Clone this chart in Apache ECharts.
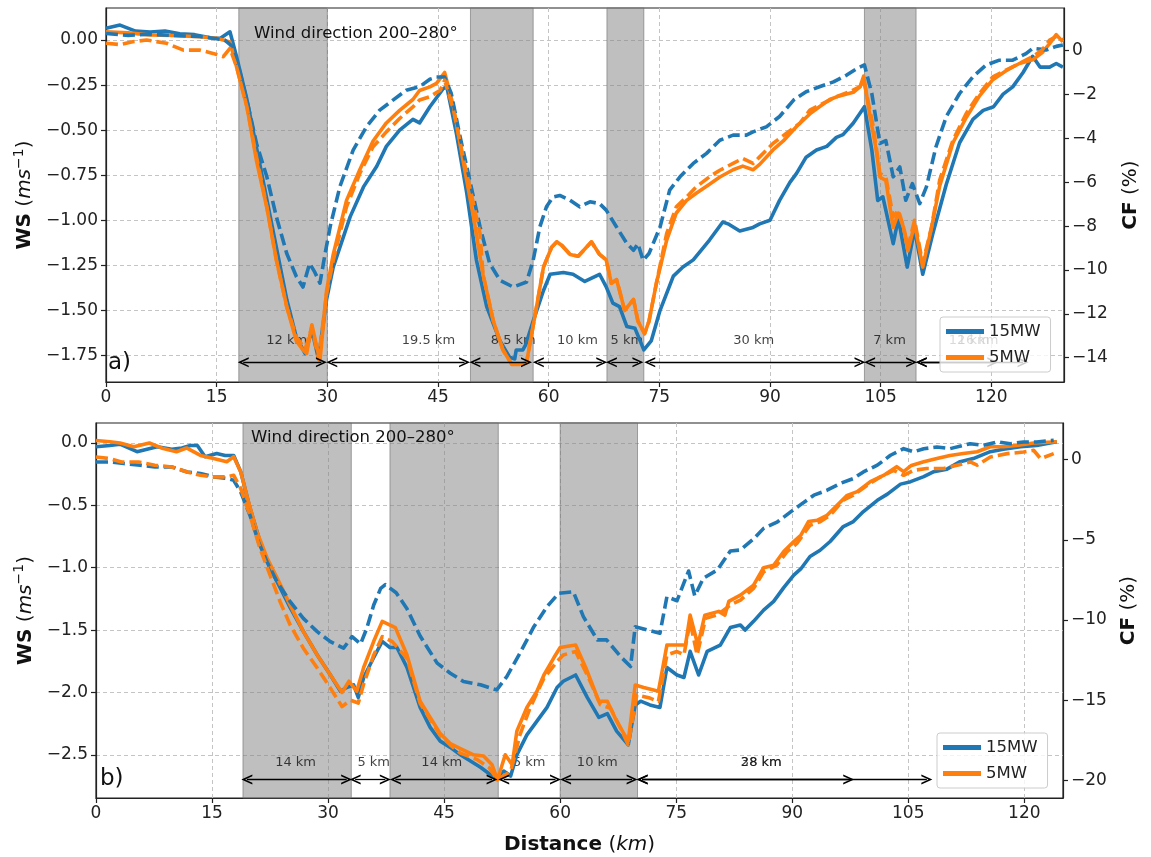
<!DOCTYPE html>
<html><head><meta charset="utf-8">
<script src="https://cdn.jsdelivr.net/npm/echarts@6/dist/echarts.min.js"></script>
<style>html,body{margin:0;padding:0;background:#fff}#c{width:1151px;height:857px}</style>
</head><body><div id="c"></div>
<script>
// ---------- Panel a) data: [distance km, value] ----------
const A_WS_15 = [[0,0.065],[1.9,0.083],[4,0.05],[6,0.045],[8,0.05],[10,0.035],[12,0.03],[14.5,0.01],[15.5,0.01],[16.8,0.046],[17.7,-0.093],[19.1,-0.33],[20.9,-0.70],[22.7,-1.07],[24.5,-1.44],[25.8,-1.65],[27.0,-1.74],[27.9,-1.61],[28.8,-1.77],[29.9,-1.44],[30.8,-1.26],[33.1,-0.98],[34.9,-0.815],[36.7,-0.70],[38.0,-0.59],[39.8,-0.50],[41.6,-0.44],[42.5,-0.46],[43.9,-0.37],[45.7,-0.27],[46.2,-0.26],[47.5,-0.52],[48.9,-0.85],[50.2,-1.22],[51.6,-1.48],[53.4,-1.67],[54.7,-1.76],[55.4,-1.77],[55.6,-1.72],[56.5,-1.72],[56.9,-1.69],[57.9,-1.56],[59.3,-1.39],[60.2,-1.30],[62.0,-1.29],[63.3,-1.30],[64.9,-1.34],[66.9,-1.30],[67.8,-1.37],[68.7,-1.46],[69.6,-1.48],[70.6,-1.59],[71.7,-1.60],[72.9,-1.72],[73.9,-1.67],[75.1,-1.50],[76.9,-1.31],[78.2,-1.26],[79.6,-1.22],[81.8,-1.11],[83.6,-1.01],[84.3,-1.02],[85.9,-1.06],[87.7,-1.04],[88.6,-1.02],[90.0,-1.0],[91.3,-0.89],[92.7,-0.79],[93.6,-0.74],[94.9,-0.65],[96.3,-0.61],[97.7,-0.59],[99.0,-0.54],[99.9,-0.525],[101.3,-0.46],[102.8,-0.37],[103.8,-0.61],[104.6,-0.89],[105.3,-0.87],[106.7,-1.13],[107.4,-0.99],[108.6,-1.26],[109.6,-1.05],[110.7,-1.30],[112.1,-1.07],[113.9,-0.80],[115.7,-0.57],[117.5,-0.44],[118.9,-0.39],[120.3,-0.37],[121.6,-0.30],[122.9,-0.26],[124.3,-0.18],[125.6,-0.09],[126.6,-0.15],[127.9,-0.15],[128.8,-0.13],[129.7,-0.15]];
const A_WS_5 = [[0,0.046],[3,0.04],[6,0.028],[9,0.025],[12.7,0.018],[15,0.01],[16.8,-0.01],[17.7,-0.15],[19.1,-0.37],[20.4,-0.67],[21.8,-0.93],[23.1,-1.22],[24.5,-1.48],[25.8,-1.67],[26.7,-1.72],[27.2,-1.74],[27.9,-1.58],[29.0,-1.78],[29.9,-1.39],[30.8,-1.19],[32.6,-0.89],[34.4,-0.72],[36.2,-0.56],[38.0,-0.46],[39.8,-0.39],[41.6,-0.33],[42.5,-0.28],[43.9,-0.26],[44.8,-0.24],[45.9,-0.18],[47.1,-0.37],[48.4,-0.67],[49.8,-0.98],[51.1,-1.30],[52.5,-1.56],[53.8,-1.72],[55.0,-1.80],[56.1,-1.80],[57.0,-1.79],[58.1,-1.54],[59.3,-1.26],[60.4,-1.15],[61.1,-1.12],[61.8,-1.14],[62.9,-1.19],[64.0,-1.20],[64.9,-1.16],[65.8,-1.12],[66.9,-1.19],[67.8,-1.22],[68.5,-1.35],[69.2,-1.33],[69.6,-1.39],[70.3,-1.50],[71.5,-1.44],[72.1,-1.56],[73.0,-1.63],[73.6,-1.56],[74.6,-1.35],[76.0,-1.11],[77.3,-0.96],[78.7,-0.89],[80.0,-0.85],[81.8,-0.80],[83.2,-0.76],[85.0,-0.72],[86.3,-0.70],[87.7,-0.72],[88.6,-0.69],[90.4,-0.61],[91.8,-0.56],[93.6,-0.48],[95.4,-0.41],[96.7,-0.37],[98.1,-0.33],[99.4,-0.31],[101.3,-0.29],[102.2,-0.26],[102.7,-0.20],[103.5,-0.41],[104.4,-0.61],[104.9,-0.76],[105.7,-0.78],[106.7,-1.04],[107.4,-0.96],[108.1,-1.04],[108.7,-1.17],[109.6,-1.02],[110.7,-1.26],[111.9,-1.04],[113.0,-0.81],[114.8,-0.57],[116.6,-0.43],[118.4,-0.31],[120.2,-0.22],[122.0,-0.17],[123.8,-0.13],[125.6,-0.11],[126.9,-0.07],[127.9,-0.02],[128.8,0.03],[129.7,-0.01]];
const A_CF_15 = [[0,0.79],[3,0.7],[6,0.75],[9,0.7],[12.7,0.65],[14.5,0.57],[16.1,0.49],[17.2,0.18],[18.2,-1.03],[19.3,-2.56],[20.4,-4.23],[21.8,-5.75],[23.1,-7.58],[24.5,-9.25],[25.8,-10.3],[26.7,-10.78],[27.6,-9.7],[28.3,-10.1],[29.0,-10.6],[29.7,-9.25],[30.4,-8.0],[31.7,-6.2],[33.5,-4.53],[35.3,-3.47],[37.1,-2.71],[38.9,-2.25],[40.7,-1.8],[42.5,-1.64],[43.9,-1.30],[44.8,-1.2],[45.9,-1.2],[46.8,-1.95],[47.9,-3.77],[49.3,-5.9],[50.7,-8.04],[52.0,-9.7],[53.4,-10.47],[55.2,-10.78],[57.0,-10.55],[57.9,-9.56],[58.8,-8.04],[59.7,-7.12],[60.6,-6.67],[61.5,-6.6],[62.9,-6.82],[64.2,-7.12],[65.6,-6.89],[66.9,-6.97],[67.8,-7.27],[69.2,-8.04],[70.6,-8.79],[71.5,-9.1],[72.1,-8.8],[72.8,-9.56],[73.6,-9.25],[75.1,-8.04],[76.4,-6.36],[77.8,-5.75],[79.6,-5.14],[81.4,-4.68],[83.2,-4.08],[85.0,-3.85],[86.8,-3.85],[87.7,-3.7],[89.5,-3.47],[91.3,-3.0],[93.2,-2.25],[94.9,-1.87],[96.7,-1.64],[98.6,-1.42],[100.4,-1.11],[101.8,-0.81],[102.8,-0.65],[103.8,-1.95],[104.9,-4.23],[105.7,-4.1],[106.7,-5.75],[107.6,-5.3],[108.4,-6.82],[109.3,-6.06],[110.3,-6.97],[111.2,-6.21],[112.5,-4.38],[113.9,-3.0],[115.7,-1.95],[117.5,-1.19],[119.3,-0.65],[121.1,-0.43],[122.9,-0.43],[124.7,-0.13],[125.6,0.11],[127.5,0.04],[128.8,0.2],[129.7,0.26]];
const A_CF_5 = [[0,0.34],[1.9,0.28],[3.6,0.41],[5.5,0.49],[8.2,0.34],[10.5,0.03],[12.7,0.03],[14.5,-0.12],[15.9,-0.27],[16.8,0.11],[17.7,-0.73],[19.1,-2.56],[20.4,-4.84],[21.8,-7.12],[23.1,-9.56],[24.5,-11.69],[25.8,-13.06],[27.0,-13.6],[27.9,-12.6],[28.8,-14.05],[29.9,-11.08],[30.8,-9.56],[32.6,-7.12],[34.4,-5.6],[36.2,-4.38],[38.0,-3.7],[39.8,-3.09],[41.6,-2.56],[42.5,-2.25],[43.9,-2.1],[45.3,-1.8],[45.9,-1.34],[47.1,-2.71],[48.4,-4.84],[49.3,-6.21],[50.7,-8.34],[51.1,-10.2],[52.5,-12.33],[53.8,-13.65],[55.0,-14.3],[56.1,-14.3],[57.0,-14.22],[58.1,-12.17],[59.3,-9.87],[60.4,-8.96],[61.1,-8.72],[61.8,-8.88],[62.9,-9.29],[64.0,-9.37],[64.9,-9.05],[65.8,-8.72],[66.9,-9.29],[67.8,-9.54],[68.5,-10.61],[69.2,-10.44],[69.6,-10.94],[70.3,-11.84],[71.5,-11.35],[72.1,-12.33],[73.0,-12.91],[73.6,-12.33],[74.6,-10.61],[76.0,-8.33],[77.3,-7.12],[78.7,-6.67],[80.0,-6.21],[81.8,-5.75],[83.2,-5.45],[85.0,-5.14],[86.3,-4.91],[87.7,-5.14],[88.6,-4.84],[90.4,-4.23],[92.2,-3.77],[94.0,-3.32],[95.4,-2.71],[97.2,-2.4],[99.0,-2.1],[100.8,-1.87],[102.2,-1.64],[102.7,-1.34],[104.0,-3.47],[104.9,-5.6],[105.7,-5.75],[106.7,-7.58],[107.4,-7.27],[108.1,-8.04],[108.7,-8.95],[109.6,-7.73],[110.7,-9.7],[111.9,-8.04],[113.0,-5.9],[114.8,-4.08],[116.6,-2.86],[118.4,-1.95],[120.2,-1.19],[122.0,-0.88],[123.8,-0.58],[125.6,-0.27],[126.9,0.04],[127.9,0.49],[128.8,0.65],[129.7,0.49]];

// ---------- Panel b) data ----------
const B_WS_15 = [[0,-0.03],[1.8,-0.02],[3.1,-0.01],[5.3,-0.07],[6.6,-0.05],[7.9,-0.03],[9.8,-0.05],[11.1,-0.04],[12.2,-0.02],[13.1,-0.02],[14.1,-0.11],[15.6,-0.085],[16.7,-0.10],[17.8,-0.10],[18.7,-0.23],[19.9,-0.52],[21.2,-0.79],[22.5,-1.0],[23.8,-1.16],[25.1,-1.32],[26.8,-1.51],[28.6,-1.70],[30.3,-1.86],[31.6,-1.99],[32.4,-1.96],[33.3,-1.94],[33.9,-2.04],[34.6,-1.88],[35.9,-1.72],[37.0,-1.59],[38.0,-1.64],[38.9,-1.64],[40.2,-1.80],[41.9,-2.12],[43.2,-2.28],[44.5,-2.39],[45.8,-2.44],[47.1,-2.5],[48.4,-2.55],[49.7,-2.6],[51.0,-2.66],[51.9,-2.68],[52.7,-2.63],[53.6,-2.67],[54.4,-2.5],[55.7,-2.34],[57.0,-2.23],[58.3,-2.12],[59.6,-1.96],[60.4,-1.91],[62.0,-1.86],[63.5,-2.04],[65.0,-2.2],[66.1,-2.17],[67.3,-2.31],[68.8,-2.42],[69.7,-2.1],[70.4,-2.07],[71.6,-2.1],[72.9,-2.12],[73.8,-1.80],[75.1,-1.86],[76.0,-1.88],[76.8,-1.67],[77.9,-1.86],[79.0,-1.67],[80.7,-1.62],[82.0,-1.48],[83.3,-1.46],[83.9,-1.50],[85.0,-1.43],[86.3,-1.34],[87.6,-1.27],[88.9,-1.16],[90.2,-1.06],[91.1,-1.01],[92.3,-0.91],[93.6,-0.86],[94.9,-0.79],[96.6,-0.67],[97.9,-0.63],[99.2,-0.55],[101.0,-0.46],[102.3,-0.41],[104.0,-0.33],[105.3,-0.31],[107.0,-0.27],[108.3,-0.23],[110.0,-0.21],[111.7,-0.15],[113.4,-0.125],[115.6,-0.07],[117.3,-0.05],[119.5,-0.03],[121.6,-0.02],[124.2,0.01]];
const B_WS_5 = [[0,0.02],[1.8,0.01],[3.1,0.0],[4.9,-0.03],[6.9,0.0],[8.7,-0.045],[10.4,-0.07],[11.7,-0.04],[13.5,-0.10],[15.2,-0.125],[16.9,-0.15],[17.8,-0.11],[18.7,-0.23],[19.7,-0.47],[20.8,-0.71],[22.1,-0.92],[23.4,-1.08],[25.1,-1.30],[26.8,-1.51],[28.6,-1.70],[30.3,-1.86],[31.8,-2.0],[32.7,-1.91],[33.7,-1.99],[34.6,-1.80],[35.9,-1.59],[37.0,-1.43],[38.7,-1.48],[40.2,-1.70],[41.9,-2.07],[43.2,-2.2],[44.5,-2.33],[45.8,-2.41],[47.1,-2.45],[48.8,-2.5],[50.1,-2.51],[51.2,-2.58],[51.9,-2.70],[52.9,-2.5],[53.8,-2.58],[54.4,-2.31],[55.7,-2.12],[57.0,-1.99],[57.9,-1.86],[59.2,-1.72],[60.0,-1.64],[62.0,-1.62],[63.3,-1.80],[65.0,-2.07],[66.1,-2.07],[67.3,-2.23],[68.8,-2.39],[69.7,-1.94],[70.8,-1.96],[72.7,-1.99],[73.8,-1.62],[75.1,-1.62],[76.2,-1.62],[76.8,-1.38],[77.8,-1.62],[78.7,-1.38],[80.5,-1.35],[81.3,-1.38],[81.8,-1.27],[83.3,-1.22],[85.0,-1.14],[86.3,-1.0],[87.6,-0.98],[88.9,-0.87],[90.2,-0.79],[91.1,-0.74],[92.1,-0.63],[93.2,-0.62],[94.5,-0.58],[95.8,-0.50],[97.1,-0.42],[98.4,-0.39],[100.1,-0.31],[101.8,-0.26],[103.5,-0.19],[104.4,-0.23],[105.4,-0.18],[107.0,-0.15],[108.7,-0.125],[110.4,-0.10],[112.1,-0.085],[113.9,-0.07],[115.6,-0.03],[117.3,-0.03],[119.0,-0.02],[121.2,0.0],[124.2,0.01]];
const B_CF_15 = [[0,-0.15],[1.8,-0.15],[3.6,-0.25],[5.7,-0.35],[7.6,-0.46],[9.8,-0.46],[11.8,-0.77],[13.5,-0.87],[15.2,-1.08],[16.9,-1.18],[17.8,-1.29],[18.7,-2.01],[19.9,-3.47],[21.0,-5.13],[22.1,-6.37],[23.4,-7.62],[25.1,-8.86],[26.8,-9.9],[28.6,-10.73],[30.3,-11.35],[32.0,-11.76],[33.1,-11.04],[34.2,-11.5],[35.0,-10.52],[35.9,-9.07],[36.8,-8.03],[37.4,-7.8],[38.8,-8.3],[40.2,-9.3],[41.9,-11.0],[44.1,-12.69],[45.8,-13.32],[47.5,-13.84],[49.7,-14.04],[51.8,-14.36],[53.1,-13.53],[54.8,-12.07],[56.6,-10.42],[58.3,-9.17],[59.8,-8.34],[61.7,-8.24],[63.0,-9.79],[64.8,-11.24],[66.0,-11.24],[67.8,-12.28],[69.1,-12.9],[69.7,-10.42],[71.2,-10.62],[72.9,-10.83],[73.8,-8.55],[75.1,-8.8],[76.6,-6.95],[77.4,-8.5],[78.5,-7.4],[80.3,-6.89],[82.0,-5.7],[83.3,-5.64],[85.0,-4.95],[86.3,-4.29],[88.1,-3.88],[89.8,-3.26],[91.0,-2.84],[92.8,-2.22],[94.5,-1.91],[96.2,-1.49],[97.9,-1.18],[99.2,-0.77],[101.0,-0.35],[102.7,0.27],[104.4,0.68],[105.7,0.48],[107.0,0.68],[108.7,0.78],[110.4,0.68],[113.0,0.99],[114.7,0.89],[116.5,1.1],[118.2,0.99],[119.9,1.1],[121.6,1.1],[123.8,1.2]];
const B_CF_5 = [[0,0.16],[1.8,0.06],[3.3,-0.15],[5.5,-0.15],[7.6,-0.35],[9.8,-0.46],[11.8,-0.77],[13.5,-0.98],[15.2,-1.08],[16.9,-1.08],[17.8,-0.98],[18.7,-1.8],[19.9,-3.47],[21.2,-5.54],[22.5,-7.2],[23.8,-8.86],[25.1,-10.31],[26.8,-11.76],[28.6,-13.0],[30.3,-14.25],[31.8,-15.4],[32.9,-15.0],[33.9,-15.18],[34.6,-14.0],[35.9,-12.18],[37.0,-11.04],[38.3,-11.35],[40.2,-12.4],[41.9,-15.2],[43.2,-16.2],[44.5,-17.2],[45.8,-17.8],[47.1,-18.3],[49.3,-18.71],[50.8,-19.2],[51.9,-19.96],[53.6,-19.44],[54.8,-17.16],[56.1,-15.49],[57.9,-13.63],[59.6,-12.59],[60.4,-12.18],[62.0,-11.97],[63.5,-13.42],[65.2,-15.29],[66.5,-15.5],[67.8,-16.74],[68.8,-17.78],[69.9,-14.67],[71.6,-14.87],[72.7,-15.08],[73.8,-12.18],[75.1,-11.97],[76.0,-12.18],[76.8,-10.1],[77.7,-12.18],[78.8,-9.9],[80.3,-9.69],[82.0,-9.07],[83.3,-8.76],[85.0,-8.03],[86.3,-7.0],[88.0,-6.58],[89.3,-5.75],[90.6,-5.23],[92.3,-4.09],[93.6,-3.88],[94.9,-3.47],[96.6,-2.53],[97.9,-2.22],[99.7,-1.6],[101.4,-1.08],[103.1,-0.67],[104.4,-0.98],[105.7,-0.67],[107.4,-0.56],[109.6,-0.56],[111.3,-0.35],[113.0,-0.15],[113.9,-0.35],[115.6,0.16],[117.8,0.37],[119.9,0.47],[121.2,0.58],[122.1,0.06],[123.8,0.37]];

// ---------- annotations ----------
const A_BANDS = [[18,30],[49.4,57.9],[67.9,72.9],[102.8,109.8]];
const B_BANDS = [[19,33],[38,52],[60,70]];
const A_ARROWS = [[18.6,29.2],[30.6,48.6],[50.0,57.0],[58.6,67.2],[68.5,72.1],[73.7,102.2],[103.5,109.2],[110.5,120.2],[110.5,124.3]];
const A_LABELS = [[24.5,'12 km'],[43.7,'19.5 km'],[55.2,'8.5 km'],[63.9,'10 km'],[70.6,'5 km'],[87.8,'30 km'],[106.2,'7 km'],[117.0,'12 km'],[118.2,'16 km']];
const B_ARROWS = [[19.5,32.4],[33.5,37.4],[38.7,51.2],[52.7,59.4],[60.7,69.3],[70.6,97.3],[70.6,107.4]];
const B_LABELS = [[25.8,'14 km'],[35.9,'5 km'],[44.7,'14 km'],[56.0,'5 km'],[64.8,'10 km'],[86.0,'28 km'],[86.0,'38 km']];
const A_ARROW_Y = -1.789, A_LABEL_Y = -1.667;
const B_ARROW_Y = -2.698, B_LABEL_Y = -2.56;

// ---------- ticks ----------
const X_TICKS = [0,15,30,45,60,75,90,105,120];
const A_WS_TICKS = [0,-0.25,-0.5,-0.75,-1,-1.25,-1.5,-1.75];
const A_CF_TICKS = [0,-2,-4,-6,-8,-10,-12,-14];
const B_WS_TICKS = [0,-0.5,-1,-1.5,-2,-2.5];
const B_CF_TICKS = [0,-5,-10,-15,-20];
const SERIES_NAMES = ['15MW','5MW'];
const COLORS = ['#1f77b4','#ff7f0e'];

const FONT = 'DejaVu Sans';
const fmt = d => v => (v < 0 ? '\u2212' : '') + Math.abs(v).toFixed(d);
const ARROW = 'path://M0,10 L5,0 L10,10 L8.3,10 L5,3.4 L1.7,10 Z';

function xAxis(grid, max, withName) {
  return {
    type:'value', gridIndex:grid, min:0, max:max,
    axisLine:{show:true, onZero:false, lineStyle:{color:'#222', width:1.2}},
    axisTick:{show:true, length:5, customValues:X_TICKS, lineStyle:{color:'#222', width:1.2}},
    axisLabel:{customValues:X_TICKS, margin:7, fontFamily:FONT, fontSize:17, color:'#222', formatter:fmt(0)},
    splitLine:{show:true, lineStyle:{color:'#c4c4c4', width:1, type:[4,3]}},
    name: withName ? '{b|Distance} ({i|km})' : '',
    nameLocation:'middle', nameGap:37,
    nameTextStyle:{fontFamily:FONT, fontSize:20, color:'#111', rich:{b:{fontFamily:FONT,fontSize:20,fontWeight:'bold',color:'#111'}, i:{fontFamily:FONT,fontSize:20,fontStyle:'italic',color:'#111'}}}
  };
}
function yAxis(grid, pos, min, max, ticks, dec, name, gap, split) {
  return {
    type:'value', gridIndex:grid, position:pos, min:min, max:max,
    axisLine:{show:true, onZero:false, lineStyle:{color:'#222', width:1.2}},
    axisTick:{show:true, length:5, customValues:ticks, lineStyle:{color:'#222', width:1.2}},
    axisLabel:{customValues:ticks, margin:8, fontFamily:FONT, fontSize:17, color:'#222', formatter:fmt(dec)},
    splitLine:{show:split, lineStyle:{color:'#c4c4c4', width:1, type:[4,3]}},
    name:name, nameLocation:'middle', nameGap:gap,
    nameTextStyle:{fontFamily:FONT, fontSize:20, color:'#111', rich:{
      b:{fontFamily:FONT,fontSize:20,fontWeight:'bold',color:'#111'},
      r:{fontFamily:FONT,fontSize:20,color:'#111'},
      i:{fontFamily:FONT,fontSize:20,fontStyle:'italic',color:'#111'},
      s:{fontFamily:FONT,fontSize:14,color:'#111',padding:[0,0,12,0]}}}
  };
}
function line(name, data, color, xi, yi, dashed, z) {
  return {type:'line', name:name, data:data, xAxisIndex:xi, yAxisIndex:yi, showSymbol:false, symbol:'none',
    silent:true, z:z, lineStyle:{color:color, width:3.6, type: dashed ? [12,5] : 'solid', join:'round'}, itemStyle:{color:color}};
}
function bands(list, xi, yi) {
  return {type:'line', data:[], xAxisIndex:xi, yAxisIndex:yi, z:1, silent:true,
    markArea:{silent:true, itemStyle:{color:'rgba(128,128,128,0.5)', borderColor:'rgba(110,110,110,0.6)', borderWidth:1},
      data: list.map(b => [{xAxis:b[0]},{xAxis:b[1]}])}};
}
function arrows(list, y, xi, yi) {
  return {type:'line', data:[], xAxisIndex:xi, yAxisIndex:yi, z:2, silent:true,
    markLine:{silent:true, symbol:[ARROW, ARROW], symbolSize:[10,11], precision:3,
      lineStyle:{color:'#000', width:1.3, type:'solid'}, label:{show:false},
      data: list.map(a => [{coord:[a[0], y]},{coord:[a[1], y]}])}};
}
function labels(list, y, xi, yi) {
  return {type:'scatter', data: list.map(l => [l[0], y, l[1]]), xAxisIndex:xi, yAxisIndex:yi, z:2, silent:true,
    symbolSize:1, itemStyle:{color:'rgba(0,0,0,0)'},
    label:{show:true, position:'inside', formatter:p => p.value[2], fontFamily:FONT, fontSize:13, color:'#111'}};
}
function legend(left, top) {
  return {left:left, top:top, orient:'vertical', z:10, padding:[5,10,5,6], itemGap:7,
    itemWidth:38, itemHeight:5, backgroundColor:'rgba(255,255,255,0.8)', borderColor:'#cccccc', borderWidth:1, borderRadius:3,
    textStyle:{fontFamily:FONT, fontSize:16.5, color:'#222', lineHeight:19},
    data: SERIES_NAMES.map(n => ({name:n, icon:'rect'}))};
}

const chart = echarts.init(document.getElementById('c'), null, {renderer:'canvas'});
chart.setOption({
  animation:false, backgroundColor:'#ffffff',
  grid:[
    {left:106, top:8, width:958, height:374, show:true, borderColor:'#222', borderWidth:1.2, backgroundColor:'transparent', outerBoundsMode:'none'},
    {left:96, top:423, width:967, height:375, show:true, borderColor:'#222', borderWidth:1.2, backgroundColor:'transparent', outerBoundsMode:'none'}
  ],
  xAxis:[xAxis(0, 129.85, false), xAxis(1, 125, true)],
  yAxis:[
    yAxis(0,'left',-1.898,0.178,A_WS_TICKS,2,'{b|WS} {r|(}{i|ms}{s|\u22121}{r|)}',67,true),
    yAxis(0,'right',-15.11,1.95,A_CF_TICKS,0,'{b|CF} {r|(%)}',57,false),
    yAxis(1,'left',-2.846,0.16,B_WS_TICKS,1,'{b|WS} {r|(}{i|ms}{s|\u22121}{r|)}',57,true),
    yAxis(1,'right',-21.1,2.28,B_CF_TICKS,0,'{b|CF} {r|(%)}',56,false)
  ],
  legend:[legend(940,317), legend(937,733)],
  graphic:[
    {type:'text', left:254, top:25, z:5, style:{text:'Wind direction 200\u2013280\u00b0', font:'16.5px "DejaVu Sans"', fill:'#111'}},
    {type:'text', left:251, top:429, z:5, style:{text:'Wind direction 200\u2013280\u00b0', font:'16.5px "DejaVu Sans"', fill:'#111'}},
    {type:'text', left:108, top:352, z:5, style:{text:'a)', font:'23px "DejaVu Sans"', fill:'#111'}},
    {type:'text', left:100, top:768, z:5, style:{text:'b)', font:'23px "DejaVu Sans"', fill:'#111'}}
  ],
  series:[
    bands(A_BANDS,0,0), bands(B_BANDS,1,2),
    arrows(A_ARROWS,A_ARROW_Y,0,0), arrows(B_ARROWS,B_ARROW_Y,1,2),
    labels(A_LABELS,A_LABEL_Y,0,0), labels(B_LABELS,B_LABEL_Y,1,2),
    line(SERIES_NAMES[0], A_WS_15, COLORS[0], 0, 0, false, 3),
    line(SERIES_NAMES[1], A_WS_5, COLORS[1], 0, 0, false, 3),
    line(SERIES_NAMES[0]+' CF', A_CF_15, COLORS[0], 0, 1, true, 3),
    line(SERIES_NAMES[1]+' CF', A_CF_5, COLORS[1], 0, 1, true, 3),
    line(SERIES_NAMES[0], B_WS_15, COLORS[0], 1, 2, false, 3),
    line(SERIES_NAMES[1], B_WS_5, COLORS[1], 1, 2, false, 3),
    line(SERIES_NAMES[0]+' CF', B_CF_15, COLORS[0], 1, 3, true, 3),
    line(SERIES_NAMES[1]+' CF', B_CF_5, COLORS[1], 1, 3, true, 3)
  ]
});
</script></body></html>
